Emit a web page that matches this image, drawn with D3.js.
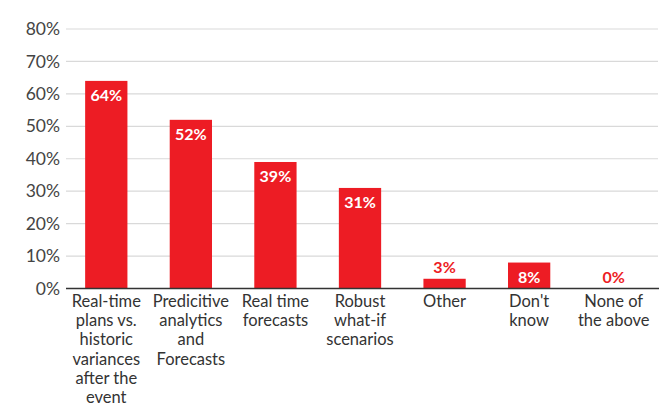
<!DOCTYPE html>
<html><head><meta charset="utf-8">
<script src="https://cdn.jsdelivr.net/npm/d3@7"></script>
<style>body{margin:0;background:#fff}svg{display:block}</style>
</head><body>
<svg id="c" width="668" height="406"></svg>
<script>
const categories = [
  ["Real-time","plans vs.","historic","variances","after the","event"],
  ["Predicitive","analytics","and","Forecasts"],
  ["Real time","forecasts"],
  ["Robust","what-if","scenarios"],
  ["Other"],
  ["Don't","know"],
  ["None of","the above"]
];
const values = [64, 52, 39, 31, 3, 8, 0];
const yTicks = [0,10,20,30,40,50,60,70,80];

const svg = d3.select("#c");
const font = "Lato, 'Open Sans', sans-serif";
const x = d3.scaleBand().domain(d3.range(values.length)).range([64, 656]).paddingInner(0.5).paddingOuter(0.25);
const y = d3.scaleLinear().domain([0, 80]).range([288.5, 29]);

// gridlines
svg.append("g").selectAll("line").data(yTicks.filter(d=>d>0)).join("line")
  .attr("x1", 66).attr("x2", 658)
  .attr("y1", d=>y(d)).attr("y2", d=>y(d))
  .attr("stroke", "#d9d9d9").attr("stroke-width", 1.2);

// y labels
svg.append("g").selectAll("text").data(yTicks).join("text")
  .attr("x", 60).attr("y", d=>y(d)).attr("dy", "0.35em")
  .attr("text-anchor", "end").attr("font-family", font).attr("font-size", 17.5)
  .attr("fill", "#444").text(d=>d+"%");

// bars
svg.append("g").selectAll("rect").data(values).join("rect")
  .attr("x", (d,i)=>x(i)).attr("width", x.bandwidth())
  .attr("y", d=>y(d)).attr("height", d=>y(0)-y(d))
  .attr("fill", "#ED1C24");

// axis line
svg.append("line").attr("x1", 66).attr("x2", 659).attr("y1", y(0)).attr("y2", y(0))
  .attr("stroke", "#333").attr("stroke-width", 1.5);

// value labels
svg.append("g").selectAll("text").data(values).join("text")
  .attr("x", (d,i)=>x(i)+x.bandwidth()/2)
  .attr("y", d=> d>=5 ? y(d)+20 : y(d)-6)
  .attr("text-anchor", "middle").attr("font-family", font).attr("font-size", 16)
  .attr("font-weight", "bold")
  .attr("fill", d=> d>=5 ? "#fff" : "#ED1C24")
  .text(d=>d+"%");

// category labels
const cg = svg.append("g").selectAll("text").data(categories).join("text")
  .attr("text-anchor", "middle").attr("font-family", font).attr("font-size", 16.5)
  .attr("fill", "#333");
cg.each(function(lines,i){
  d3.select(this).selectAll("tspan").data(lines).join("tspan")
    .attr("x", x(i)+x.bandwidth()/2)
    .attr("y", (l,j)=>307+j*19.2)
    .text(l=>l);
});
</script>
</body></html>
